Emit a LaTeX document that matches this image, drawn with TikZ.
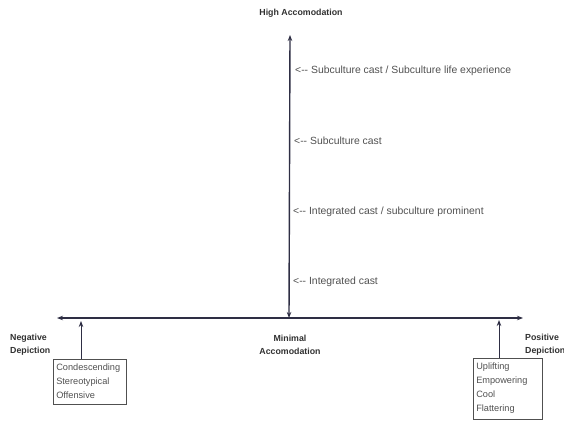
\documentclass[tikz,border=0pt]{standalone}
\usepackage{fontspec}
\setmainfont{Liberation Sans}
\usetikzlibrary{arrows.meta}
\definecolor{axis}{HTML}{2E2E44}
\definecolor{txt}{HTML}{505050}
\definecolor{btxt}{HTML}{303030}
\newcommand{\arr}{<{-}{-}}
\begin{document}
\begin{tikzpicture}[x=1pt,y=-1pt,
  axisline/.style={draw=axis,line width=1.4pt,{Stealth[length=6pt,width=4.5pt]}-{Stealth[length=6pt,width=4.5pt]}},
  uparrow/.style={draw=axis,line width=1pt,-{Stealth[length=6pt,width=4.5pt]}},
  lbl/.style={font=\fontsize{10.4}{12}\selectfont,text=txt,anchor=west,inner sep=0pt},
  blbl/.style={font=\bfseries\fontsize{8.8}{13}\selectfont,text=btxt,align=center,inner sep=0pt},
  listbox/.style={draw=txt,line width=0.6pt,align=left,font=\fontsize{9.2}{14}\selectfont,text=txt,inner xsep=3pt,inner ysep=5pt,anchor=north west}]
\useasboundingbox (0,0) rectangle (564,420);
\coordinate (top) at (290,35);
\coordinate (bot) at (289,318);
\coordinate (left) at (57,318);
\coordinate (right) at (523,318);
\draw[axisline] (top) -- (bot);
\draw[axisline] (left) -- (right);
\node[blbl] (high) at (301,13) {High Accomodation};
\node[blbl] (minimal) at (290,345) {Minimal\\Accomodation};
\node[blbl,align=left,anchor=west] (neg) at (10,345) {Negative\\Depiction};
\node[blbl,align=left,anchor=west] (pos) at (525,345) {Positive\\Depiction};
\node[lbl] (l1) at (295,71) {\arr\ Subculture cast / Subculture life experience};
\node[lbl] (l2) at (294,141) {\arr\ Subculture cast};
\node[lbl] (l3) at (293,212) {\arr\ Integrated cast / subculture prominent};
\node[lbl] (l4) at (293,282) {\arr\ Integrated cast};
\node[listbox,text width=67pt] (nbox) at (53,359) {Condescending\\Stereotypical\\Offensive};
\node[listbox,text width=63pt] (pbox) at (473,358) {Uplifting\\Empowering\\Cool\\Flattering};
\coordinate (na) at (81,321);
\coordinate (pa) at (499,320);
\draw[uparrow] (nbox.north -| na) -- (na);
\draw[uparrow] (pbox.north -| pa) -- (pa);
\end{tikzpicture}
\end{document}
